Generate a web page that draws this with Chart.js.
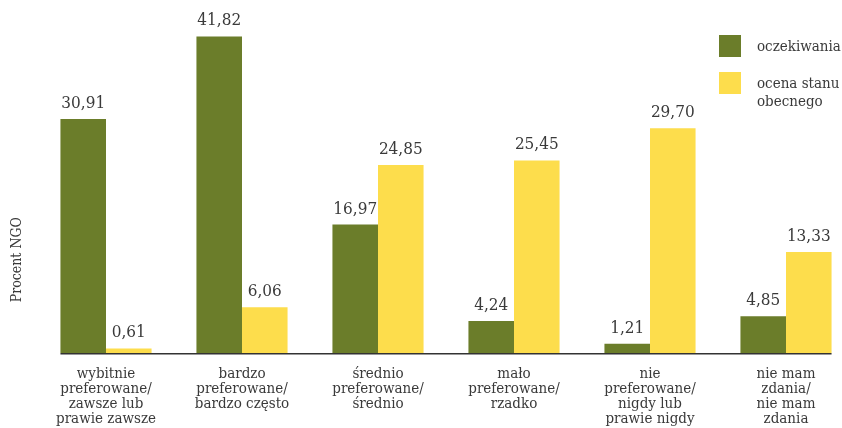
<!DOCTYPE html>
<html lang="pl">
<head>
<meta charset="utf-8">
<title>Procent NGO</title>
<script src="https://cdn.jsdelivr.net/npm/chart.js@4"></script>
<style>
  body { margin: 0; background: #fff; }
  #wrap { position: relative; width: 842px; height: 428px; }
  #legend { position: absolute; left: 719px; top: 35px; font: 15px "DejaVu Serif Condensed", "DejaVu Serif", serif; color: #3a3a3a; }
  .item { display: flex; align-items: flex-start; margin-bottom: 15px; }
  .box { width: 22px; height: 22px; flex: none; margin-right: 16px; }
  .txt { line-height: 18px; margin-top: 2px; }
</style>
</head>
<body>
<div id="wrap">
  <canvas id="chart" width="842" height="428"></canvas>
  <div id="legend"></div>
</div>
<script>
const categories = [
  ['wybitnie', 'preferowane/', 'zawsze lub', 'prawie zawsze'],
  ['bardzo', 'preferowane/', 'bardzo często'],
  ['średnio', 'preferowane/', 'średnio'],
  ['mało', 'preferowane/', 'rzadko'],
  ['nie', 'preferowane/', 'nigdy lub', 'prawie nigdy'],
  ['nie mam', 'zdania/', 'nie mam', 'zdania']
];
const seriesNames = ['oczekiwania', ['ocena stanu', 'obecnego']];
const oczekiwania = [30.91, 41.82, 16.97, 4.24, 1.21, 4.85];
const ocenaStanu = [0.61, 6.06, 24.85, 25.45, 29.70, 13.33];
const axisTitle = 'Procent NGO';

const colors = ['#6b7d2a', '#fddd4c'];
const textColor = '#3a3a3a';
const serif = '"DejaVu Serif Condensed", "DejaVu Serif", serif';

// value labels above each bar, Polish decimal comma
const valueLabels = {
  id: 'valueLabels',
  afterDatasetsDraw(chart) {
    const ctx = chart.ctx;
    ctx.save();
    ctx.font = '17px ' + serif;
    ctx.fillStyle = textColor;
    ctx.textAlign = 'center';
    ctx.textBaseline = 'alphabetic';
    chart.data.datasets.forEach((ds, i) => {
      chart.getDatasetMeta(i).data.forEach((bar, j) => {
        ctx.fillText(ds.data[j].toFixed(2).replace('.', ','), bar.x, bar.y - 11);
      });
    });
    ctx.restore();
  }
};

// baseline under the bars, running from the first to the last bar edge
const baseline = {
  id: 'baseline',
  afterDatasetsDraw(chart) {
    const first = chart.getDatasetMeta(0).data[0];
    const lastMeta = chart.getDatasetMeta(chart.data.datasets.length - 1).data;
    const last = lastMeta[lastMeta.length - 1];
    const y = chart.chartArea.bottom + 0.75;
    const ctx = chart.ctx;
    ctx.save();
    ctx.strokeStyle = '#333';
    ctx.lineWidth = 1.5;
    ctx.beginPath();
    ctx.moveTo(first.x - first.width / 2, y);
    ctx.lineTo(last.x + last.width / 2, y);
    ctx.stroke();
    ctx.restore();
  }
};

// vertical axis title, sitting in the lower part of the plot
const yTitle = {
  id: 'yTitle',
  afterDraw(chart) {
    const { top, bottom } = chart.chartArea;
    const ctx = chart.ctx;
    ctx.save();
    ctx.translate(17, top + (bottom - top) * 0.72);
    ctx.rotate(-Math.PI / 2);
    ctx.font = '14px ' + serif;
    ctx.fillStyle = textColor;
    ctx.textAlign = 'center';
    ctx.textBaseline = 'middle';
    ctx.fillText(axisTitle, 0, 0);
    ctx.restore();
  }
};

const ctx = document.getElementById('chart').getContext('2d');
const chart = new Chart(ctx, {
  type: 'bar',
  data: {
    labels: categories,
    datasets: [
      { label: seriesNames[0], data: oczekiwania, backgroundColor: colors[0] },
      { label: seriesNames[1], data: ocenaStanu, backgroundColor: colors[1] }
    ]
  },
  options: {
    responsive: false,
    animation: false,
    datasets: { bar: { clip: false, categoryPercentage: 0.67, barPercentage: 1 } },
    layout: { padding: { top: 20, right: 56, left: 0, bottom: 0 } },
    plugins: {
      legend: { display: false },
      tooltip: { enabled: false }
    },
    scales: {
      x: {
        offset: false,
        grid: { display: false },
        border: { display: false },
        ticks: {
          color: textColor,
          font: { family: serif, size: 15, lineHeight: 1 },
          padding: 6,
          autoSkip: false,
          maxRotation: 0
        },
        afterFit: s => { s.height = 75; }
      },
      y: {
        min: 0,
        max: 44,
        grid: { display: false },
        border: { display: false },
        ticks: { display: false },
        afterFit: s => { s.width = 106; }
      }
    }
  },
  plugins: [valueLabels, baseline, yTitle]
});

// legend as HTML so the second entry can wrap onto two lines
const legend = document.getElementById('legend');
chart.data.datasets.forEach((ds, i) => {
  const item = document.createElement('div');
  item.className = 'item';
  const box = document.createElement('div');
  box.className = 'box';
  box.style.background = ds.backgroundColor;
  const txt = document.createElement('div');
  txt.className = 'txt';
  txt.innerHTML = [].concat(ds.label).join('<br>');
  item.appendChild(box);
  item.appendChild(txt);
  legend.appendChild(item);
});
</script>
</body>
</html>
